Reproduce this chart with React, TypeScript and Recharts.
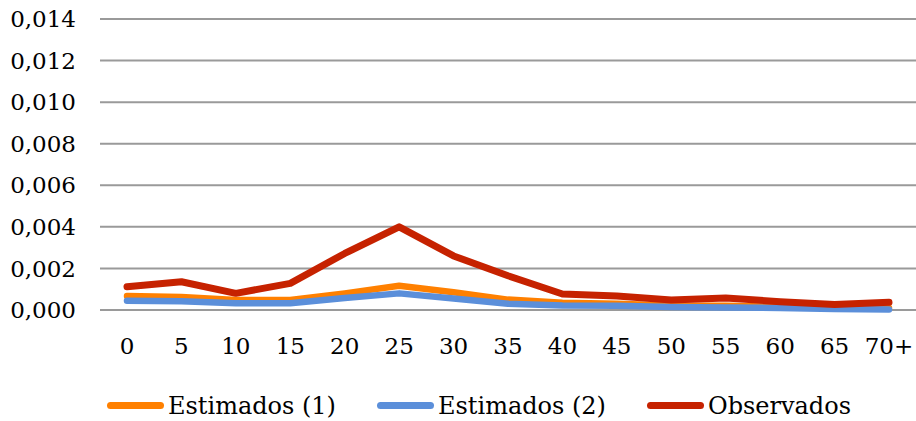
import React from 'react';
import { LineChart, Line, XAxis, YAxis, CartesianGrid, Legend } from 'recharts';

const ages = ['0', '5', '10', '15', '20', '25', '30', '35', '40', '45', '50', '55', '60', '65', '70+'];
const estimados1 = [0.00067, 0.00063, 0.00048, 0.00048, 0.0008, 0.00117, 0.00085, 0.0005, 0.00035, 0.0003, 0.00022, 0.0002, 0.00015, 0.0001, 0.0001];
const estimados2 = [0.00045, 0.00042, 0.00032, 0.00032, 0.00058, 0.0008, 0.00055, 0.0003, 0.00022, 0.0002, 0.00015, 0.00012, 0.0001, 0.00005, 0.00003];
const observados = [0.00112, 0.00136, 0.0008, 0.00128, 0.00272, 0.004, 0.0026, 0.00165, 0.00077, 0.00067, 0.00048, 0.00058, 0.0004, 0.00027, 0.00037];
const yTicks = [0, 0.002, 0.004, 0.006, 0.008, 0.01, 0.012, 0.014];

const seriesNames = ['Estimados (1)', 'Estimados (2)', 'Observados'];
const seriesColors = ['#FF8000', '#5B8FDA', '#C62200'];

const data = ages.map((a, i) => ({
  age: a,
  e1: estimados1[i],
  e2: estimados2[i],
  obs: observados[i],
}));

const FONT = '"DejaVu Serif", serif';

const renderLegend = () => (
  <div
    style={{
      height: 31,
      display: 'flex',
      alignItems: 'center',
      paddingLeft: 107,
      fontFamily: FONT,
      fontSize: 24,
      color: '#000',
      whiteSpace: 'nowrap',
    }}
  >
    {seriesNames.map((n, i) => (
      <div key={n} style={{ display: 'flex', alignItems: 'center', marginRight: 41 }}>
        <span
          style={{
            display: 'inline-block',
            width: 57,
            height: 7,
            borderRadius: 4,
            background: seriesColors[i],
            marginRight: 4,
          }}
        />
        <span>{n}</span>
      </div>
    ))}
  </div>
);

const fmt = (v: number) => v.toFixed(3).replace('.', ',');

export default function App() {
  return (
    <div style={{ position: 'absolute', left: 0, top: 0, width: 916, height: 421, background: '#fff' }}>
      <LineChart
        width={916}
        height={421}
        data={data}
        margin={{ top: 19, right: 0, bottom: 0, left: 0 }}
        style={{ fontFamily: FONT }}
      >
        <CartesianGrid vertical={false} stroke="#9a9a9a" strokeWidth={2} />
        <XAxis
          dataKey="age"
          axisLine={false}
          tickLine={false}
          height={80}
          tickMargin={22}
          padding={{ left: 27, right: 27 }}
          interval={0}
          tick={{ fill: '#000', fontSize: 23, fontFamily: FONT }}
        />
        <YAxis
          width={100}
          domain={[0, 0.014]}
          ticks={yTicks}
          axisLine={false}
          tickLine={false}
          tickMargin={18}
          tickFormatter={fmt}
          tick={{ fill: '#000', fontSize: 23, fontFamily: FONT }}
        />
        <Legend verticalAlign="bottom" content={renderLegend} />
        <Line dataKey="e1" name={seriesNames[0]} stroke={seriesColors[0]} strokeWidth={6.5} dot={false} isAnimationActive={false} strokeLinejoin="round" strokeLinecap="round" />
        <Line dataKey="e2" name={seriesNames[1]} stroke={seriesColors[1]} strokeWidth={6.5} dot={false} isAnimationActive={false} strokeLinejoin="round" strokeLinecap="round" />
        <Line dataKey="obs" name={seriesNames[2]} stroke={seriesColors[2]} strokeWidth={7} dot={false} isAnimationActive={false} strokeLinejoin="round" strokeLinecap="round" />
      </LineChart>
    </div>
  );
}
